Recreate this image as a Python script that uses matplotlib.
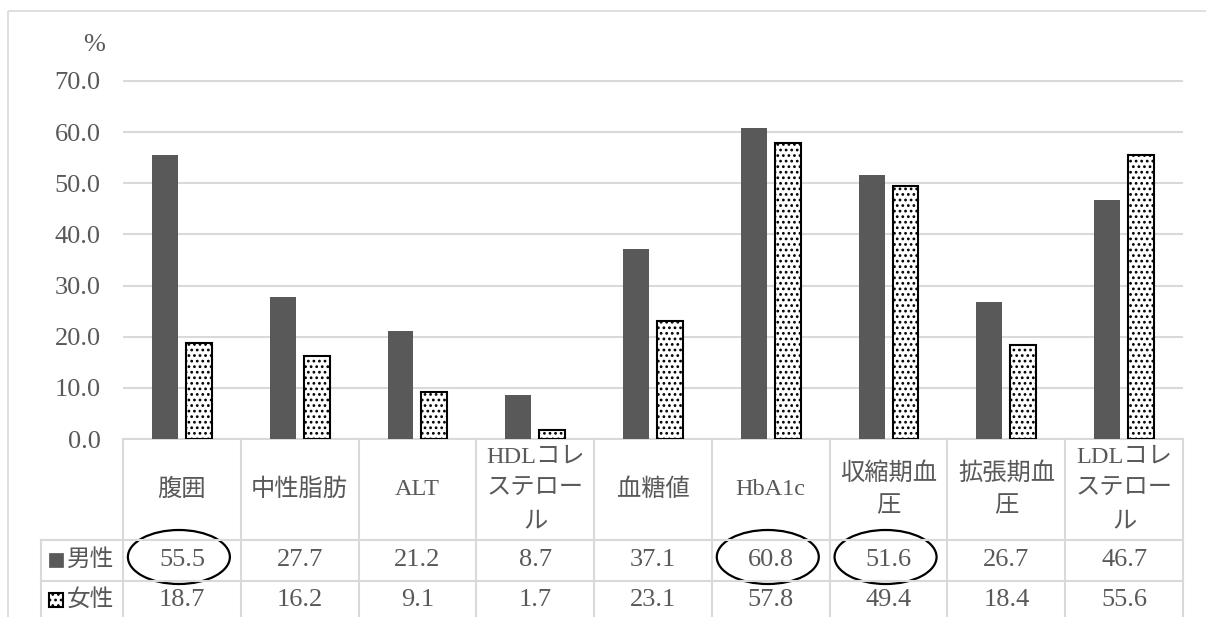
import numpy as np
import matplotlib.pyplot as plt
from matplotlib.patches import Rectangle, Ellipse

plt.rcParams['font.family'] = ['Liberation Serif', 'Noto Sans CJK JP']
plt.rcParams['hatch.linewidth'] = 1.2

# Data
categories = ['腹囲', '中性脂肪', 'ALT', 'HDLコレステロール', '血糖値',
              'HbA1c', '収縮期血圧', '拡張期血圧', 'LDLコレステロール']
header_labels = ['腹囲', '中性脂肪', 'ALT', 'HDLコレ\nステロー\nル', '血糖値',
                 'HbA1c', '収縮期血\n圧', '拡張期血\n圧', 'LDLコレ\nステロー\nル']
male = [55.5, 27.7, 21.2, 8.7, 37.1, 60.8, 51.6, 26.7, 46.7]
female = [18.7, 16.2, 9.1, 1.7, 23.1, 57.8, 49.4, 18.4, 55.6]
series_names = ['男性', '女性']
circled_male = [0, 5, 6]
yticks = np.arange(0, 71, 10)

TXT = '#595959'
GRID = '#d9d9d9'
DARK = '#595959'
FS_NUM = 19
FS_JP = 17
FS_HEAD = 17.5

W, H = 1206, 617
fig = plt.figure(figsize=(W / 100, H / 100), dpi=100)

# pixel-space layer for the frame and the data table
bg = fig.add_axes([0, 0, 1, 1])
bg.set_xlim(0, W)
bg.set_ylim(H, 0)
bg.axis('off')

left, right, y70, base = 123, 1183, 81, 439
ymax = 72
top = base - ymax * (base - y70) / 70
ax = fig.add_axes([left / W, 1 - base / H, (right - left) / W, (base - top) / H])

n = len(categories)
x = np.arange(n)
off, bw = 0.144, 0.22
ax.bar(x - off, male, bw, color=DARK, zorder=3)
ax.bar(x + off, female, bw, facecolor='white', edgecolor='black',
       hatch='...', linewidth=1.5, zorder=3)

ax.set_xlim(-0.5, n - 0.5)
ax.set_ylim(0, ymax)
ax.set_yticks(yticks)
ax.set_yticklabels([f'{v:.1f}' for v in yticks], color=TXT, fontsize=FS_NUM)
ax.tick_params(axis='y', length=0, pad=16)
ax.set_xticks([])
ax.yaxis.grid(True, color=GRID, linewidth=1.5)
ax.set_axisbelow(True)
for s in ax.spines.values():
    s.set_visible(False)
ax.patch.set_alpha(0)

# outer frame and unit label
bg.add_patch(Rectangle((8, 11), 1210, 640, fill=False, edgecolor=GRID, lw=1.2))
bg.text(94, 45, '%', ha='center', va='center', color=TXT, fontsize=FS_NUM)

# data table below the bars
colw = (right - left) / n
row_top = [base, 540, 581]
row_bot = [540, 581, 622]
lab_left = 41
bg.plot([left, right], [base, base], color=GRID, lw=1.5)
for yy in row_top[1:]:
    bg.plot([lab_left, right], [yy, yy], color=GRID, lw=1.5)
for i in range(n + 1):
    xx = left + i * colw
    bg.plot([xx, xx], [base, row_bot[-1]], color=GRID, lw=1.5)
bg.plot([lab_left, lab_left], [row_top[1], row_bot[-1]], color=GRID, lw=1.5)

for i in range(n):
    cx = left + (i + 0.5) * colw
    bg.text(cx, (row_top[0] + row_bot[0]) / 2, header_labels[i], ha='center',
            va='center', color=TXT, fontsize=FS_HEAD, linespacing=1.7)
    for r, vals in enumerate([male, female], start=1):
        cy = (row_top[r] + min(row_bot[r], 620)) / 2 - 1
        bg.text(cx, cy, f'{vals[i]:.1f}', ha='center', va='center',
                color=TXT, fontsize=FS_NUM)

# row labels with legend keys
for r, name in enumerate(series_names, start=1):
    cy = (row_top[r] + min(row_bot[r], 620)) / 2 - 1
    if r == 1:
        key = Rectangle((49, cy - 7), 14, 14, facecolor=DARK, edgecolor=DARK, lw=0.5)
    else:
        key = Rectangle((49, cy - 7), 14, 14, facecolor='white', edgecolor='black',
                        hatch='...', lw=1.5)
    bg.add_patch(key)
    bg.text(67, cy, name, ha='left', va='center', color=TXT, fontsize=FS_JP)

# highlighted cells
for i in circled_male:
    cx = left + (i + 0.5) * colw - 3
    bg.add_patch(Ellipse((cx, 557), 102, 54, fill=False, edgecolor='black', lw=1.6))

fig.savefig('out.png', dpi=100)
